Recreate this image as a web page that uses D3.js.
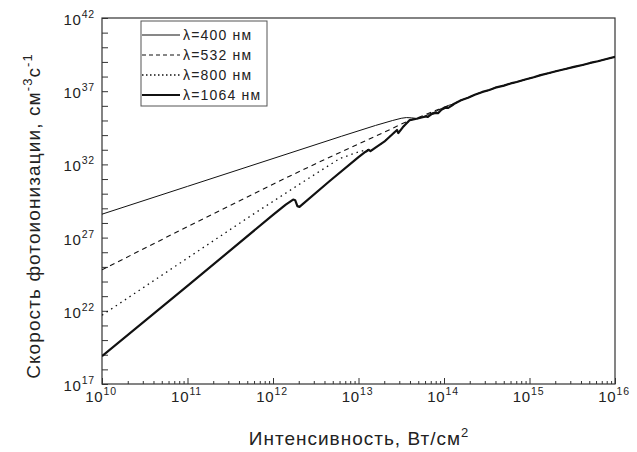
<!DOCTYPE html>
<html><head><meta charset="utf-8">
<script src="https://cdn.jsdelivr.net/npm/d3@7/dist/d3.min.js"></script>
<style>body{margin:0;background:#fff} text{font-family:"Liberation Sans", Arial, sans-serif;fill:#222}</style>
</head><body><svg id="c" width="637" height="452"></svg>
<script>
// ---- data (log-log axes) ----
const xTickExponents = [10, 11, 12, 13, 14, 15, 16];
const yTickExponents = [17, 22, 27, 32, 37, 42];
const legendLabels = ["λ=400 нм", "λ=532 нм", "λ=800 нм", "λ=1064 нм"];

// common high-intensity branch where all curves coincide
const commonI = [5.62e13, 6.61e13, 7.94e13, 9.33e13, 1.12e14, 1.32e14, 1.58e14, 1.91e14, 2.29e14, 2.82e14, 3.39e14, 3.98e14, 5.01e14, 6.03e14, 7.08e14, 8.91e14, 1.12e15, 1.35e15, 1.70e15, 2.09e15, 2.63e15, 3.31e15, 4.17e15, 5.13e15, 6.31e15, 7.94e15, 1e16];
const commonR = [1.66e35, 2.63e35, 3.98e35, 6.61e35, 1.05e36, 1.41e36, 2.40e36, 3.55e36, 5.75e36, 8.91e36, 1.20e37, 1.74e37, 2.40e37, 3.39e37, 4.27e37, 6.31e37, 8.91e37, 1.26e38, 1.74e38, 2.40e38, 3.31e38, 4.57e38, 6.17e38, 8.51e38, 1.12e39, 1.58e39, 2.19e39];

const i400 = [1e10, 1e11, 1e12, 6.31e12, 1.58e13, 2.51e13, 3.16e13, 3.63e13, 4.17e13, 4.79e13];
const r400 = [3.98e28, 3.16e30, 2.51e32, 8.32e33, 4.57e34, 1e35, 1.41e35, 1.58e35, 1.51e35, 1.38e35];

const i532 = [1e10, 1e11, 1e12, 3.16e12, 1e13, 2e13, 3.16e13, 4.17e13, 5.01e13, 6.31e13, 7.94e13, 1e14, 1.26e14];
const r532 = [6.31e24, 5.62e27, 4.47e30, 1.12e32, 2.51e33, 1.58e34, 5.62e34, 1.12e35, 1.58e35, 2.82e35, 4.79e35, 7.94e35, 1.26e36];

const i800 = [1e10, 1e11, 5.37e11, 2.24e12, 6.03e12, 1e13, 1.26e13];
const r800 = [5.01e21, 3.98e25, 2.82e28, 6.31e30, 2.51e32, 7.08e32, 1e33];

const i1064 = [1e10, 1e11, 1e12, 1.41e12, 1.72e12, 1.82e12, 1.93e12, 2.04e12, 4.57e12, 1e13, 1.20e13, 1.32e13, 1.38e13, 1.58e13, 2e13, 2.82e13, 2.92e13, 3.31e13, 3.98e13, 4.79e13, 5.62e13, 6.17e13, 6.46e13, 7.24e13, 7.94e13, 8.51e13, 9.33e13, 1.05e14, 1.12e14, 1.26e14];
const r1064 = [7.94e18, 5.01e23, 3.55e28, 1.78e29, 3.98e29, 3.55e29, 1.41e29, 1.26e29, 7.08e30, 3.16e32, 7.08e32, 1e33, 7.94e32, 1.41e33, 3.55e33, 2.24e34, 1.38e34, 3.55e34, 1.07e35, 1.32e35, 1.66e35, 1.91e35, 1.74e35, 2.82e35, 3.31e35, 3.16e35, 5.50e35, 7.59e35, 7.24e35, 1.12e36];

// ---- build ----
const zip = (a, b) => a.map((v, k) => ({i: v, r: b[k]}));
const common = zip(commonI, commonR);
const withTail = (own, tail) => own.concat(tail.filter(d => d.i > own[own.length - 1].i * 1.001));
const s400 = withTail(zip(i400, r400), common);
const s532 = withTail(zip(i532, r532), common);
const s1064 = withTail(zip(i1064, r1064), common);
const s800 = withTail(zip(i800, r800), s1064); // dotted merges into the 1064 nm curve

const L = 102, R = 615, T = 18, B = 384;
const svg = d3.select("#c");
const x = d3.scaleLog().domain([1e10, 1e16]).range([L, R]);
const y = d3.scaleLog().domain([1e17, 1e42]).range([B, T]);

// axes ticks (inward)
const xMajor = xTickExponents.map(e => Math.pow(10, e));
const xMinor = x.ticks().filter(v => !xMajor.some(m => Math.abs(v / m - 1) < 1e-9));
const gx = svg.append("g").attr("transform", `translate(0,${B})`);
gx.append("g").call(d3.axisBottom(x).tickValues(xMajor).tickSize(-6).tickFormat(""));
gx.append("g").call(d3.axisBottom(x).tickValues(xMinor).tickSize(-3).tickFormat(""));
gx.selectAll(".domain").remove();

const yDecades = d3.range(17, 43).map(e => Math.pow(10, e));
const gy = svg.append("g").attr("transform", `translate(${L},0)`);
gy.append("g").call(d3.axisLeft(y).tickValues(yDecades).tickSize(-6).tickFormat(""));
gy.selectAll(".domain").remove();
svg.selectAll(".tick line").attr("stroke", "#333");

// frame
svg.append("rect").attr("x", L).attr("y", T).attr("width", R - L).attr("height", B - T)
  .attr("fill", "none").attr("stroke", "#333").attr("stroke-width", 1.2);

// x tick labels
xTickExponents.forEach(e => {
  const t = svg.append("text").attr("x", x(Math.pow(10, e)) - 1).attr("y", 402)
    .attr("text-anchor", "middle").attr("font-size", 15).attr("letter-spacing", 0.8);
  t.append("tspan").text("10");
  t.append("tspan").attr("dy", -7).attr("font-size", 10.5).text(e);
});
// y tick labels
yTickExponents.forEach(e => {
  const t = svg.append("text").attr("x", 95).attr("y", y(Math.pow(10, e)) + 7)
    .attr("text-anchor", "end").attr("font-size", 15).attr("letter-spacing", 0.8);
  t.append("tspan").text("10");
  t.append("tspan").attr("dy", -7).attr("font-size", 10.5).text(e);
});

// axis titles
const xt = svg.append("text").attr("x", 359).attr("y", 445).attr("text-anchor", "middle")
  .attr("font-size", 19).attr("letter-spacing", 1);
xt.append("tspan").text("Интенсивность, Вт/см");
xt.append("tspan").attr("dy", -8).attr("font-size", 13).text("2");

const yt = svg.append("text").attr("transform", "translate(40,216) rotate(-90)")
  .attr("text-anchor", "middle").attr("font-size", 19).attr("letter-spacing", 1.1);
yt.append("tspan").text("Скорость фотоионизации, см");
yt.append("tspan").attr("dy", -8).attr("font-size", 13).text("-3");
yt.append("tspan").attr("dy", 8).text("с");
yt.append("tspan").attr("dy", -8).attr("font-size", 13).text("-1");

// curves
const line = d3.line().x(d => x(d.i)).y(d => y(d.r));
const styles = [
  {data: s400, w: 1, dash: null, ldash: null},
  {data: s532, w: 1.1, dash: "5,4", ldash: "4,3"},
  {data: s800, w: 1.3, dash: "1.5,4", ldash: "1.5,2.5"},
  {data: s1064, w: 2.2, dash: null, ldash: null}
];
svg.append("clipPath").attr("id", "pc").append("rect")
  .attr("x", L).attr("y", T).attr("width", R - L).attr("height", B - T);
styles.forEach(s => {
  svg.append("path").attr("d", line(s.data)).attr("fill", "none")
    .attr("stroke", "#111").attr("stroke-width", s.w)
    .attr("stroke-dasharray", s.dash).attr("stroke-linejoin", "round")
    .attr("clip-path", "url(#pc)");
});

// legend
const lg = svg.append("g");
lg.append("rect").attr("x", 141).attr("y", 21).attr("width", 126).attr("height", 85)
  .attr("fill", "#fff").attr("stroke", "#555").attr("stroke-width", 1);
legendLabels.forEach((lab, k) => {
  const yy = 35 + k * 20;
  lg.append("line").attr("x1", 142).attr("x2", 180).attr("y1", yy).attr("y2", yy)
    .attr("stroke", "#111").attr("stroke-width", k === 3 ? 2 : styles[k].w)
    .attr("stroke-dasharray", styles[k].ldash);
  lg.append("text").attr("x", 183).attr("y", yy + 5).attr("font-size", 14)
    .attr("letter-spacing", 1.2).text(lab);
});
</script></body></html>
